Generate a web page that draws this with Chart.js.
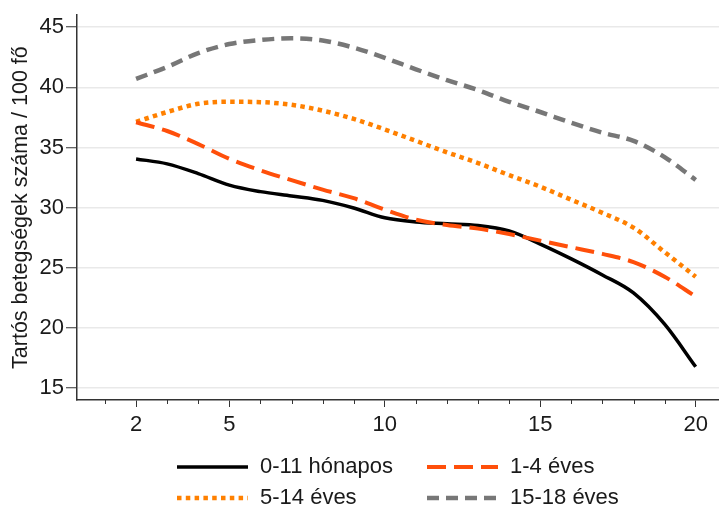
<!DOCTYPE html>
<html lang="hu">
<head>
  <meta charset="UTF-8">
  <title>Tartós betegségek</title>
  <script src="https://cdn.jsdelivr.net/npm/chart.js"></script>
  <style>
    body { margin: 0; background: #fff; }
    #wrap { width: 719px; height: 506px; }
  </style>
</head>
<body>
  <div id="wrap">
    <canvas id="grafikon" width="719" height="506"></canvas>
  </div>

  <script>
    // adatok
    const evek = [2, 3, 4, 5, 6, 7, 8, 9, 10, 11, 12, 13, 14, 15, 16, 17, 18, 19, 20];
    const honapos0_11 = [34.05, 33.64, 32.83, 31.87, 31.33, 30.97, 30.6, 29.97, 29.15, 28.8, 28.66, 28.52, 28.06, 26.97, 25.74, 24.4, 22.9, 20.3, 16.76];
    const eves1_4 = [37.1, 36.37, 35.28, 34.05, 33.1, 32.28, 31.5, 30.78, 29.83, 29.0, 28.55, 28.25, 27.8, 27.25, 26.7, 26.15, 25.47, 24.25, 22.6];
    const eves5_14 = [37.13, 37.95, 38.63, 38.8, 38.77, 38.55, 38.06, 37.38, 36.5, 35.55, 34.6, 33.7, 32.7, 31.74, 30.65, 29.56, 28.33, 26.3, 24.25];
    const eves15_18 = [40.7, 41.7, 42.85, 43.6, 43.94, 44.08, 43.9, 43.3, 42.45, 41.5, 40.6, 39.77, 38.8, 37.95, 37.05, 36.23, 35.55, 34.2, 32.3];
    const cimkek = ["0-11 hónapos", "1-4 éves", "5-14 éves", "15-18 éves"];
    const xFoTickek = [2, 5, 10, 15, 20];
    const yTickek = [15, 20, 25, 30, 35, 40, 45];

    const betu = "'Liberation Sans', Arial, sans-serif";

    function pontok(ertekek) {
      return evek.map((x, i) => ({ x: x, y: ertekek[i] }));
    }

    // kis tickek az x tengelyen minden évnél
    const kisTickek = {
      id: 'kisTickek',
      afterDraw(chart) {
        const ctx = chart.ctx;
        const sx = chart.scales.x;
        const alja = chart.chartArea.bottom;
        ctx.save();
        ctx.strokeStyle = '#333';
        ctx.lineWidth = 1;
        for (let v = 1; v <= 20; v++) {
          if (xFoTickek.includes(v)) continue;
          const px = Math.round(sx.getPixelForValue(v)) + 0.5;
          ctx.beginPath();
          ctx.moveTo(px, alja);
          ctx.lineTo(px, alja + 4);
          ctx.stroke();
        }
        ctx.restore();
      }
    };

    // jelmagyarázat két oszlopban
    const jelmagyarazat = {
      id: 'jelmagyarazat',
      afterDraw(chart) {
        const ctx = chart.ctx;
        const helyek = [
          { x: 177, y: 467 }, { x: 427, y: 467 },
          { x: 177, y: 498 }, { x: 427, y: 498 }
        ];
        ctx.save();
        chart.data.datasets.forEach((ds, i) => {
          const h = helyek[i];
          ctx.beginPath();
          ctx.setLineDash(ds.borderDash || []);
          ctx.strokeStyle = ds.borderColor;
          ctx.lineWidth = ds.borderWidth;
          ctx.moveTo(h.x, h.y);
          ctx.lineTo(h.x + 71, h.y);
          ctx.stroke();
          ctx.setLineDash([]);
          ctx.fillStyle = '#1a1a1a';
          ctx.font = "22px " + betu;
          ctx.textBaseline = 'middle';
          ctx.fillText(ds.label, h.x + 83, h.y);
        });
        ctx.restore();
      }
    };

    new Chart(document.getElementById('grafikon'), {
      type: 'line',
      data: {
        datasets: [
          { label: cimkek[0], data: pontok(honapos0_11), borderColor: '#000000', borderWidth: 3.5, order: 1 },
          { label: cimkek[1], data: pontok(eves1_4), borderColor: '#ff4f0a', borderWidth: 4, borderDash: [19, 8], order: 0 },
          { label: cimkek[2], data: pontok(eves5_14), borderColor: '#ff8000', borderWidth: 4.5, borderDash: [4.5, 4.3], order: 2 },
          { label: cimkek[3], data: pontok(eves15_18), borderColor: '#777777', borderWidth: 4.5, borderDash: [12, 7], order: 3 }
        ]
      },
      options: {
        responsive: false,
        animation: false,
        devicePixelRatio: 1,
        layout: { padding: { top: 9, right: 0, bottom: 0, left: 0 } },
        elements: {
          point: { radius: 0 },
          line: { cubicInterpolationMode: 'monotone', borderCapStyle: 'butt', fill: false }
        },
        plugins: {
          legend: { display: false },
          tooltip: { enabled: false }
        },
        scales: {
          x: {
            type: 'linear',
            min: 0.1,
            max: 20.75,
            afterBuildTicks: (s) => { s.ticks = xFoTickek.map(v => ({ value: v })); },
            afterFit: (s) => { s.height = 106; },
            border: { color: '#333', width: 1.5 },
            grid: { drawOnChartArea: false, drawTicks: true, tickLength: 7, tickColor: '#333', tickWidth: 1 },
            ticks: { color: '#1a1a1a', font: { family: betu, size: 22 }, padding: 5, autoSkip: false, maxRotation: 0 }
          },
          y: {
            min: 14,
            max: 46,
            afterBuildTicks: (s) => { s.ticks = yTickek.map(v => ({ value: v })); },
            afterFit: (s) => { s.width = 77; },
            border: { color: '#333', width: 1.5 },
            grid: { color: '#e9e9e9', lineWidth: 1.5, drawTicks: true, tickLength: 11, tickColor: '#333', tickWidth: 1 },
            ticks: { color: '#1a1a1a', font: { family: betu, size: 22 }, padding: 2 },
            title: {
              display: true,
              text: 'Tartós betegségek száma / 100 fő',
              color: '#1a1a1a',
              font: { family: betu, size: 21.5 },
              padding: { top: 8, bottom: 0 }
            }
          }
        }
      },
      plugins: [kisTickek, jelmagyarazat]
    });
  </script>
</body>
</html>
